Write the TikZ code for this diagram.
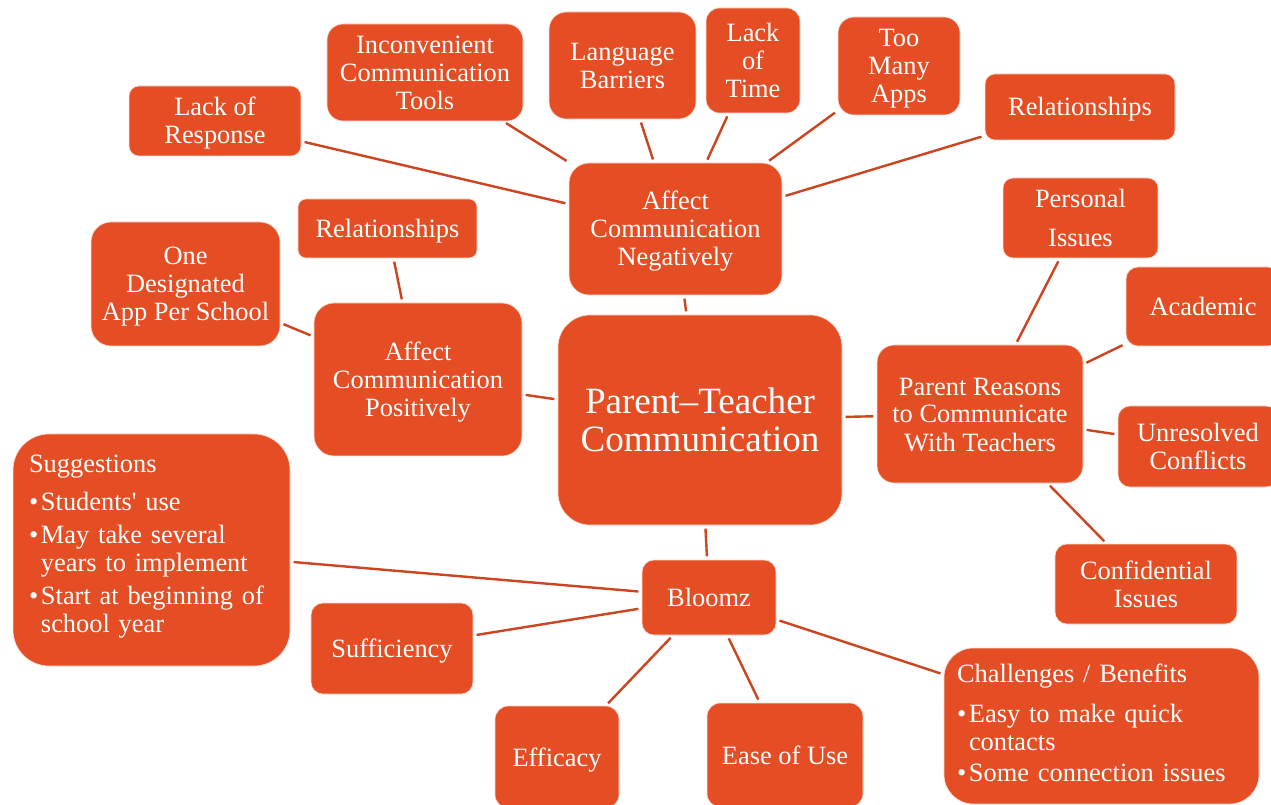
\documentclass[tikz,border=0pt]{standalone}
\usepackage{fontspec}
\setmainfont{Liberation Serif}
\definecolor{boxfill}{RGB}{229,78,36}
\definecolor{linecol}{RGB}{205,68,32}
\newcommand\myblt{\makebox[9pt][l]{\textbullet}}
\newcommand\tst{\rule{0pt}{17.8pt}}
\newcommand\bst{\rule[-4.3pt]{0pt}{4.3pt}}
\tikzset{
  box/.style={draw=white!80!boxfill, line width=0.5pt, fill=boxfill, text=white, align=center,
    inner sep=0pt, font=\fontsize{19.8}{21}\selectfont},
  sz/.style 2 args={minimum width=#1*0.75pt, minimum height=#2*0.75pt},
  conn/.style={draw=linecol, line width=1.8pt, shorten >=2.5pt, shorten <=2.5pt}
}
\begin{document}
\begin{tikzpicture}[x=0.75pt,y=-0.75pt]
\clip (0,0) rectangle (1271,805);
\fill[white] (0,0) rectangle (1271,805);
% nodes
\node[box, sz={284}{210}, rounded corners=24pt, font=\fontsize{27.8}{28.5}\selectfont] (ptc) at (700,420) {Parent\textendash Teacher\\Communication};
\node[box, sz={213}{132}, rounded corners=15pt] (an) at (675.5,229) {\tst Affect\\Communication\\Negatively\bst};
\node[box, sz={172}{70}, rounded corners=7.5pt] (lor) at (215,121) {\tst Lack of\\Response\bst};
\node[box, sz={196}{97}, rounded corners=12pt] (ict) at (425,72.5) {\tst Inconvenient\\Communication\\Tools\bst};
\node[box, sz={147}{107}, rounded corners=13pt] (lb) at (622.5,65.5) {\tst Language\\Barriers\bst};
\node[box, sz={94}{105}, rounded corners=10pt] (lot) at (753,60.5) {\tst Lack\\of\\Time\bst};
\node[box, sz={122}{98}, rounded corners=12pt] (tma) at (899,66) {\tst Too\\Many\\Apps\bst};
\node[box, sz={190}{66}, rounded corners=7.5pt] (relt) at (1080,107) {\tst Relationships\bst};
\node[box, sz={208}{153}, rounded corners=15pt] (ap) at (418,379.5) {\tst Affect\\Communication\\Positively\bst};
\node[box, sz={179}{59}, rounded corners=6pt] (rell) at (387.5,228.5) {\tst Relationships\bst};
\node[box, sz={189}{124}, rounded corners=15pt] (oda) at (185.5,284) {\tst One\\Designated\\App Per School\bst};
\node[box, sz={206}{138}, rounded corners=13pt] (prc) at (980,414) {\tst Parent Reasons\\to Communicate\\With Teachers\bst};
\node[box, sz={155}{80}, rounded corners=7.5pt] (pi) at (1080.5,218) {\tst Personal\\[8pt]Issues\bst};
\node[box, sz={154}{79}, rounded corners=9pt] (aca) at (1203,306.5) {\tst Academic\bst};
\node[box, sz={160}{81}, rounded corners=9pt] (unr) at (1198,446.5) {\tst Unresolved\\Conflicts\bst};
\node[box, sz={182}{80}, rounded corners=9pt] (cfi) at (1146,584) {\tst Confidential\\Issues\bst};
\node[box, sz={134}{75}, rounded corners=9pt] (blm) at (709,597.5) {\tst Bloomz\bst};
\node[box, sz={277}{232}, rounded corners=27pt, align=left, text width=183.75pt, inner xsep=12pt] (sug) at (151.5,550)
  {Suggestions\\[7.5pt]
   \myblt Students\textquotesingle{} use\\[3.75pt]
   \myblt May take several\\
   \hspace*{9pt}years to implement\\[3.75pt]
   \myblt Start at beginning of\\
   \hspace*{9pt}school year\rule[-9.5pt]{0pt}{9.5pt}};
\node[box, sz={162}{91}, rounded corners=9pt] (suf) at (392,648.5) {\tst Sufficiency\bst};
\node[box, sz={124}{102}, rounded corners=10pt] (eff) at (557,757) {\tst Efficacy\bst};
\node[box, sz={156}{104}, rounded corners=10pt] (eou) at (785,755) {\tst Ease of Use\bst};
\node[box, sz={315}{156}, rounded corners=22pt, align=left, text width=216.75pt, inner xsep=9.75pt] (chb) at (1101.5,726)
  {Challenges / Benefits\\[9pt]
   \myblt Easy to make quick\\
   \hspace*{9pt}contacts\\[2.25pt]
   \myblt Some connection issues\rule[-5.5pt]{0pt}{5.5pt}};
% connectors
\draw[conn] (lor) -- (an);
\draw[conn] (ict) -- (an);
\draw[conn] (lb) -- (an);
\draw[conn] (lot) -- (an);
\draw[conn] (tma) -- (an);
\draw[conn] (relt) -- (an);
\draw[conn] (an) -- (ptc);
\draw[conn] (ptc) -- (ap);
\draw[conn] (ap) -- (rell);
\draw[conn] (ap) -- (oda);
\draw[conn] (ptc) -- (prc);
\draw[conn] (prc) -- (pi);
\draw[conn] (prc) -- (aca);
\draw[conn] (prc) -- (unr);
\draw[conn] (prc) -- (cfi);
\draw[conn] (ptc) -- (blm);
\draw[conn] (blm) -- (sug);
\draw[conn] (blm) -- (suf);
\draw[conn] (blm) -- (eff);
\draw[conn] (blm) -- (eou);
\draw[conn] (blm) -- (chb);
\end{tikzpicture}
\end{document}
